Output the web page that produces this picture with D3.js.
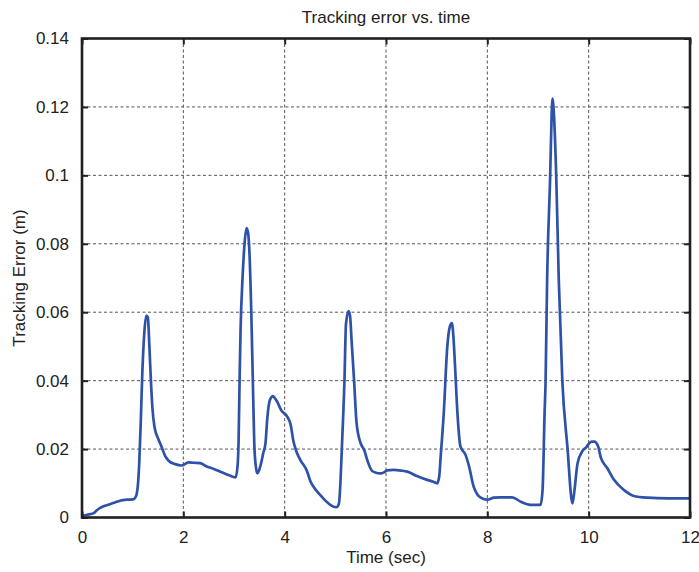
<!DOCTYPE html>
<html>
<head>
<meta charset="utf-8">
<script src="https://cdn.jsdelivr.net/npm/d3@7"></script>
<style>
  body { margin: 0; background: #fff; }
  text { font-family: "Liberation Sans", Arial, sans-serif; fill: #222; }
</style>
</head>
<body>
<div id="chart"></div>
<script>
// time (sec) and tracking error (m)
const timeSec = [0, 0.1, 0.22, 0.3, 0.36, 0.45, 0.55, 0.65, 0.75, 0.88, 1.01, 1.06, 1.1, 1.13, 1.16, 1.19, 1.23, 1.27, 1.3, 1.33, 1.36, 1.39, 1.43, 1.51, 1.57, 1.64, 1.71, 1.84, 1.97, 2.05, 2.1, 2.2, 2.33, 2.45, 2.6, 2.73, 2.86, 2.96, 3.03, 3.07, 3.09, 3.11, 3.13, 3.17, 3.21, 3.25, 3.28, 3.3, 3.34, 3.37, 3.4, 3.43, 3.46, 3.52, 3.58, 3.62, 3.66, 3.71, 3.77, 3.8, 3.85, 3.93, 4.05, 4.12, 4.17, 4.24, 4.31, 4.44, 4.51, 4.57, 4.7, 4.8, 4.9, 5.02, 5.07, 5.1, 5.13, 5.18, 5.21, 5.26, 5.29, 5.32, 5.37, 5.42, 5.5, 5.57, 5.63, 5.72, 5.8, 5.89, 5.96, 6.02, 6.15, 6.3, 6.42, 6.61, 6.81, 6.92, 7.01, 7.05, 7.08, 7.14, 7.21, 7.26, 7.3, 7.33, 7.36, 7.41, 7.47, 7.57, 7.64, 7.73, 7.8, 7.87, 8.0, 8.13, 8.26, 8.49, 8.66, 8.85, 9.05, 9.09, 9.13, 9.15, 9.18, 9.24, 9.27, 9.29, 9.31, 9.36, 9.41, 9.48, 9.58, 9.68, 9.72, 9.78, 9.88, 9.95, 10.01, 10.06, 10.11, 10.19, 10.24, 10.37, 10.5, 10.7, 10.89, 11.16, 11.56, 12.0];
const trackErr = [0.0005, 0.0008, 0.0012, 0.0022, 0.0028, 0.0034, 0.0039, 0.0044, 0.0049, 0.0052, 0.0053, 0.006, 0.009, 0.016, 0.028, 0.042, 0.054, 0.059, 0.0585, 0.05, 0.04, 0.032, 0.0265, 0.0228, 0.0207, 0.018, 0.0166, 0.0156, 0.0152, 0.0158, 0.0161, 0.016, 0.0159, 0.015, 0.0142, 0.0134, 0.0126, 0.012, 0.0117, 0.015, 0.022, 0.04, 0.055, 0.0704, 0.0804, 0.0846, 0.083, 0.079, 0.0607, 0.0412, 0.0217, 0.015, 0.0129, 0.015, 0.019, 0.0215, 0.0295, 0.0344, 0.0355, 0.035, 0.0339, 0.0314, 0.0295, 0.027, 0.0225, 0.019, 0.0168, 0.0136, 0.0105, 0.009, 0.0066, 0.005, 0.0037, 0.003, 0.004, 0.01, 0.0207, 0.04, 0.0565, 0.0603, 0.059, 0.052, 0.04, 0.0275, 0.0217, 0.0197, 0.0168, 0.0137, 0.0131, 0.0129, 0.0132, 0.0138, 0.0139, 0.0137, 0.0134, 0.0121, 0.011, 0.0105, 0.01, 0.012, 0.018, 0.0305, 0.05, 0.0558, 0.0568, 0.053, 0.045, 0.0305, 0.0207, 0.0183, 0.0149, 0.009, 0.0068, 0.0058, 0.0052, 0.0058, 0.0059, 0.0059, 0.0046, 0.0037, 0.0037, 0.008, 0.0305, 0.04, 0.0694, 0.0997, 0.118, 0.1224, 0.119, 0.0997, 0.0694, 0.04, 0.0207, 0.0041, 0.008, 0.0158, 0.0195, 0.0205, 0.0217, 0.0222, 0.0222, 0.0207, 0.0175, 0.0144, 0.011, 0.008, 0.0063, 0.0058, 0.0056, 0.0056];

const xTicks = [0, 2, 4, 6, 8, 10, 12];
const yTicks = [0, 0.02, 0.04, 0.06, 0.08, 0.1, 0.12, 0.14];
const yTickLabels = ["0", "0.02", "0.04", "0.06", "0.08", "0.1", "0.12", "0.14"];

const margin = {top: 38.5, right: 9, bottom: 54.5, left: 82};
const chartWidth = 699 - margin.left - margin.right;
const chartHeight = 572 - margin.top - margin.bottom;
const lineColor = "#2f52a9";
const fontSize = "17px";

const svg = d3.select("#chart").append("svg")
    .attr("width", 699)
    .attr("height", 572);
const g = svg.append("g")
    .attr("transform", `translate(${margin.left}, ${margin.top})`);

var x = d3.scaleLinear().domain([0, 12]).range([0, chartWidth]);
var y = d3.scaleLinear().domain([0, 0.14]).range([chartHeight, 0]);

// grid
g.append("g").selectAll("line")
    .data(xTicks.slice(1, -1))
    .enter().append("line")
    .attr("x1", d => x(d)).attr("x2", d => x(d))
    .attr("y1", 0).attr("y2", chartHeight)
    .attr("stroke", "#555").attr("stroke-width", 1)
    .attr("stroke-dasharray", "3,2.5");

g.append("g").selectAll("line")
    .data(yTicks.slice(1, -1))
    .enter().append("line")
    .attr("y1", d => y(d)).attr("y2", d => y(d))
    .attr("x1", 0).attr("x2", chartWidth)
    .attr("stroke", "#555").attr("stroke-width", 1)
    .attr("stroke-dasharray", "3,2.5");

// data line
const data = timeSec.map((t, i) => ({t: t, v: trackErr[i]}));
const line = d3.line()
    .x(d => x(d.t))
    .y(d => y(d.v))
    .curve(d3.curveMonotoneX);

g.append("path")
    .datum(data)
    .attr("fill", "none")
    .attr("stroke", lineColor)
    .attr("stroke-width", 2.7)
    .attr("stroke-linejoin", "round")
    .attr("d", line);

// axes, ticks inside on all four sides
function styleAxis(sel) {
  sel.select(".domain").remove();
  sel.selectAll(".tick line").attr("stroke", "#222").attr("stroke-width", 2);
  sel.selectAll(".tick text").style("font-size", fontSize).attr("fill", "#222");
}

g.append("g")
    .attr("transform", `translate(0, ${chartHeight})`)
    .call(d3.axisBottom(x).tickValues(xTicks).tickFormat(d3.format("d")).tickSizeInner(-6).tickPadding(13))
    .call(styleAxis);

g.append("g")
    .call(d3.axisTop(x).tickValues(xTicks).tickFormat("").tickSizeInner(-6))
    .call(styleAxis);

g.append("g")
    .call(d3.axisLeft(y).tickValues(yTicks).tickFormat((d, i) => yTickLabels[i]).tickSizeInner(-6).tickPadding(13))
    .call(styleAxis);

g.append("g")
    .attr("transform", `translate(${chartWidth}, 0)`)
    .call(d3.axisRight(y).tickValues(yTicks).tickFormat("").tickSizeInner(-6))
    .call(styleAxis);

// frame
g.append("rect")
    .attr("width", chartWidth)
    .attr("height", chartHeight)
    .attr("fill", "none")
    .attr("stroke", "#231f20")
    .attr("stroke-width", 2.6);

// labels
svg.append("text")
    .attr("x", margin.left + chartWidth / 2)
    .attr("y", 23)
    .style("text-anchor", "middle")
    .style("font-size", fontSize)
    .text("Tracking error vs. time");

svg.append("text")
    .attr("x", margin.left + chartWidth / 2)
    .attr("y", 563)
    .style("text-anchor", "middle")
    .style("font-size", fontSize)
    .text("Time (sec)");

svg.append("text")
    .attr("transform", "rotate(-90)")
    .attr("x", -(margin.top + chartHeight / 2))
    .attr("y", 25)
    .style("text-anchor", "middle")
    .style("font-size", fontSize)
    .text("Tracking Error (m)");
</script>
</body>
</html>
